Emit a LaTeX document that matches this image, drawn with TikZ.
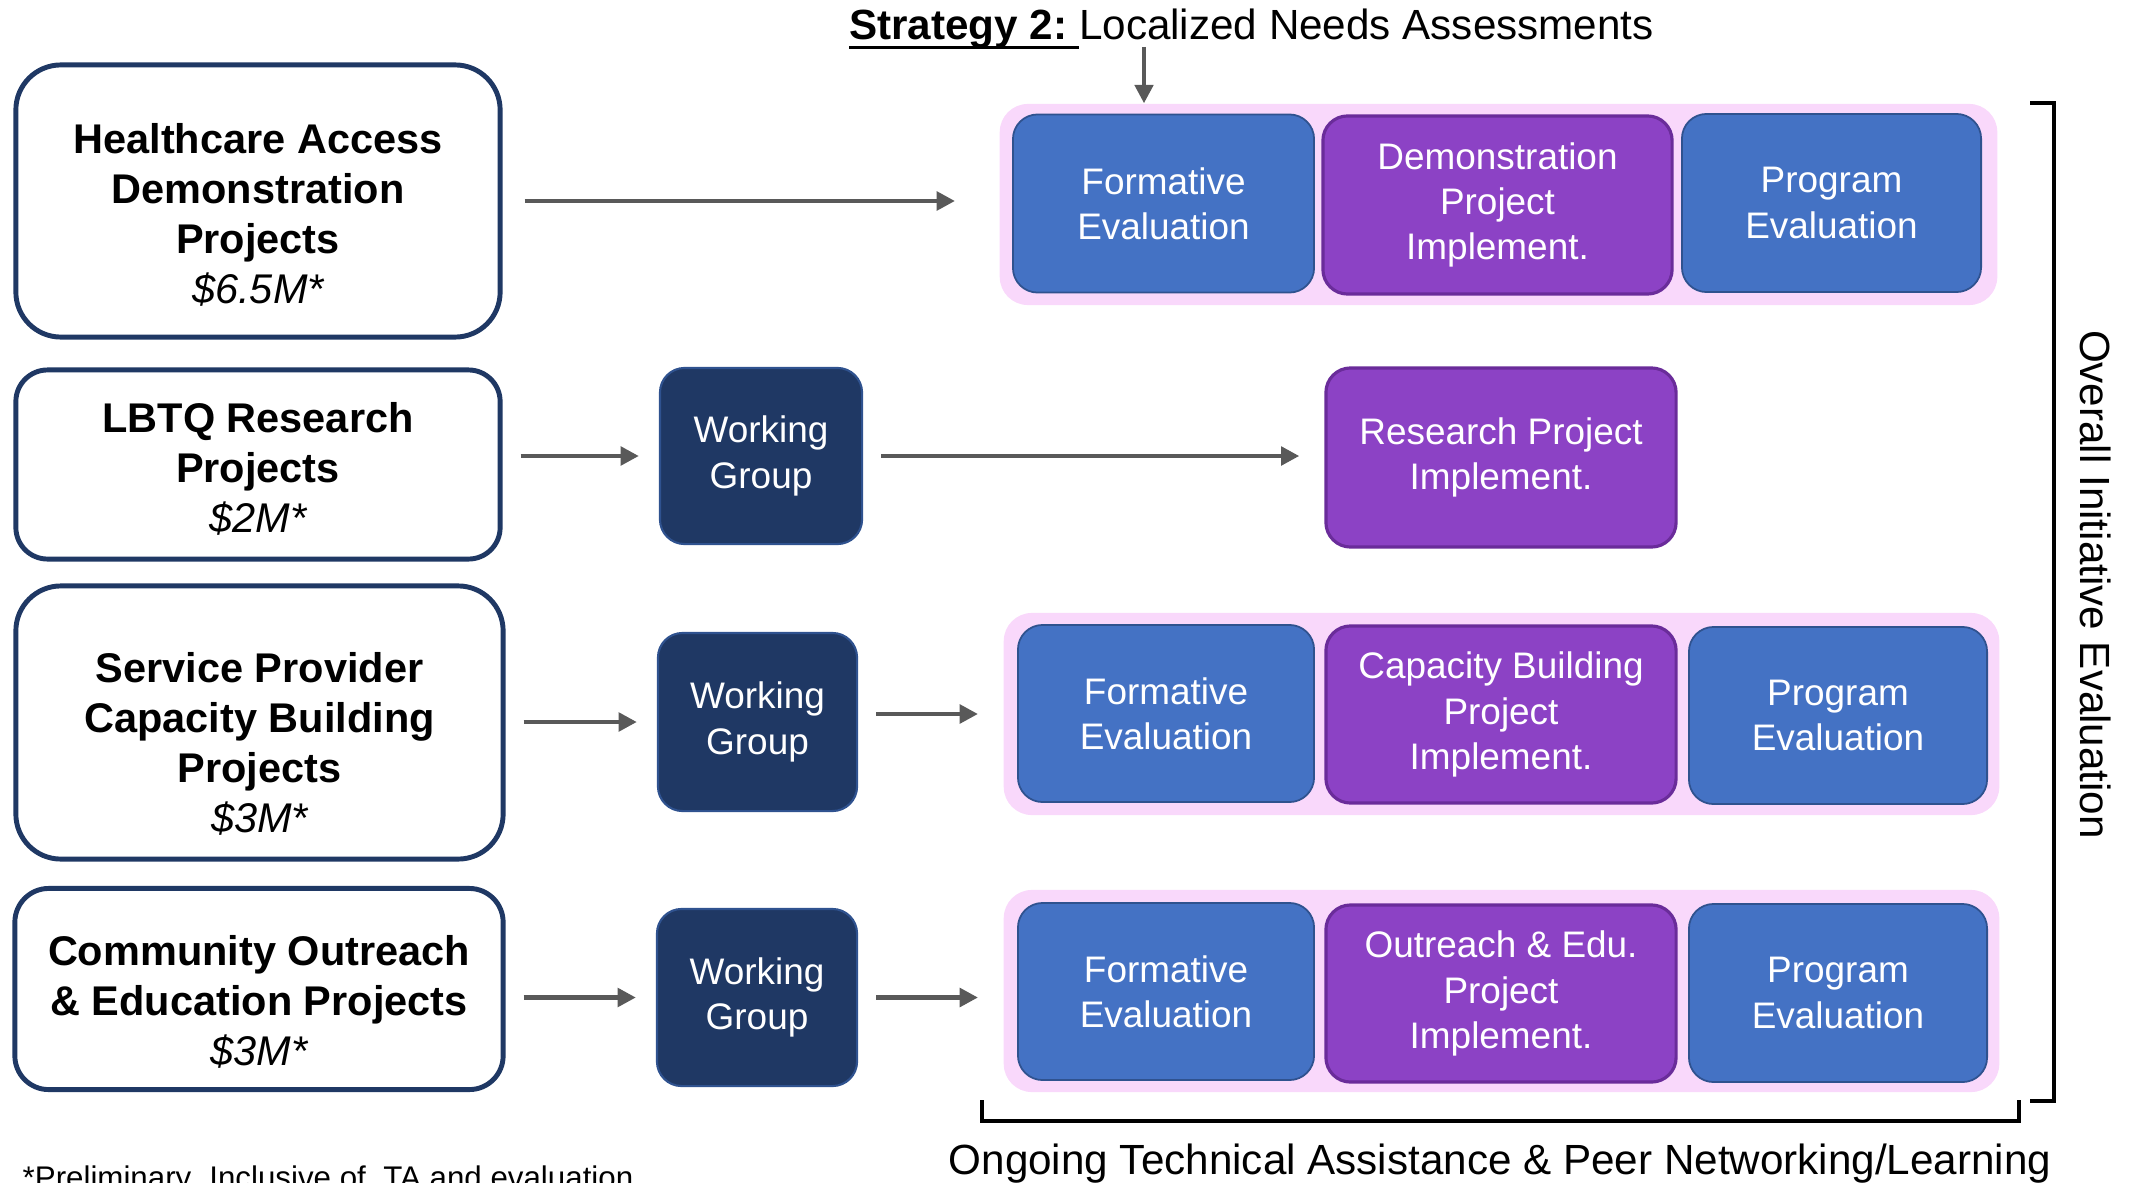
\documentclass[tikz,border=0pt]{standalone}
\usepackage{fontspec}
\setmainfont{Liberation Sans}
\usetikzlibrary{arrows.meta}

\definecolor{navy}{HTML}{1F3864}
\definecolor{navyedge}{HTML}{2F528F}
\definecolor{evalblue}{HTML}{4472C4}
\definecolor{evaledge}{HTML}{2F528F}
\definecolor{implpurple}{HTML}{8C42C5}
\definecolor{impledge}{HTML}{6A2C9A}
\definecolor{phasepink}{HTML}{F9D8FB}
\definecolor{flowgray}{HTML}{595959}

% underline placed just under the baseline, as in slide software
\newcommand\pptul[1]{\setbox0=\hbox{#1}\rlap{\rule[-2.6pt]{\wd0}{1pt}}\box0}

\begin{document}
\begin{tikzpicture}[x=0.01cm,y=-0.01cm,
  fundbox/.style={draw=navy, line width=1.4pt, fill=white, inner sep=0pt},
  fundtext/.style={align=center, font=\fontsize{11.8}{14.2}\selectfont\bfseries, inner sep=0pt},
  wgbox/.style={draw=navyedge, line width=0.6pt, fill=navy, rounded corners=7pt, text=white,
    align=center, font=\fontsize{10.5}{12.9}\selectfont, minimum width=2.0cm,
    minimum height=1.77cm, inner sep=0pt},
  phase/.style={fill=phasepink, rounded corners=8pt, minimum width=9.95cm,
    minimum height=2.02cm, inner sep=0pt},
  stage/.style={rounded corners=7pt, line width=0.5pt, text=white, align=center,
    font=\fontsize{10.5}{12.9}\selectfont, minimum height=1.78cm, inner sep=0pt},
  evalbox/.style={stage, fill=evalblue, draw=evaledge, minimum width=3.0cm},
  implbox/.style={stage, fill=implpurple, draw=impledge, line width=0.9pt, minimum width=3.5cm},
  flow/.style={draw=flowgray, line width=1.4pt, -{Triangle[length=5.2pt,width=5.2pt]},
    shorten <=0.18cm, shorten >=0.2cm},
  bracket/.style={draw=black, line width=1.4pt},
  caption/.style={font=\fontsize{12}{14.4}\selectfont, inner sep=0pt}
]
\useasboundingbox (0,0) rectangle (2131,1182);
\clip (0,0) rectangle (2131,1182);

% heading
\node[caption, anchor=base] (title) at (1251.5,40)
  {\pptul{\textbf{Strategy 2:}\ }Localized Needs Assessments};

% funding streams
\node[fundbox, rounded corners=12.8pt, minimum width=4.84cm, minimum height=2.72cm] (hca) at (258,201) {};
\node[fundtext] (hcaT) at (258,215) {Healthcare Access\\Demonstration\\Projects\\{\mdseries\itshape \$6.5M*}};

\node[fundbox, rounded corners=9pt, minimum width=4.84cm, minimum height=1.89cm] (lbtq) at (258,464.5) {};
\node[fundtext] (lbtqT) at (258,469) {LBTQ Research\\Projects\\{\mdseries\itshape \$2M*}};

\node[fundbox, rounded corners=12.8pt, minimum width=4.87cm, minimum height=2.73cm] (spc) at (259.5,722.5) {};
\node[fundtext] (spcT) at (259.5,744) {Service Provider\\Capacity Building\\Projects\\{\mdseries\itshape \$3M*}};

\node[fundbox, rounded corners=9.6pt, minimum width=4.88cm, minimum height=2.01cm] (coe) at (259,989) {};
\node[fundtext] (coeT) at (259,1001.5) {Community Outreach\\\& Education Projects\\{\mdseries\itshape \$3M*}};

% working groups
\node[wgbox, minimum width=2.02cm, minimum height=1.76cm] (wg1) at (761,456) {Working\\Group};
\node[wgbox, minimum width=1.99cm, minimum height=1.78cm] (wg2) at (757.5,722) {Working\\Group};
\node[wgbox] (wg3) at (757,997.5) {Working\\Group};

% project phases
\node[phase, minimum width=9.97cm, minimum height=2.01cm] (ph1) at (1498.5,204.5) {};
\node[evalbox, minimum width=3.01cm] (f1) at (1163.5,203.5) {Formative\\Evaluation};
\node[implbox, minimum width=3.49cm] (d1) at (1497.5,205) {Demonstration\\Project\\Implement.};
\node[evalbox, minimum width=2.99cm] (p1) at (1831.5,203) {Program\\Evaluation};

\node[implbox, minimum height=1.79cm] (r2) at (1501,457.5) {Research Project\\Implement.};

\node[phase] (ph3) at (1501.5,714) {};
\node[evalbox, minimum width=2.96cm, minimum height=1.77cm] (f3) at (1166,713.5) {Formative\\Evaluation};
\node[implbox, minimum height=1.77cm] (c3) at (1501,714.5) {Capacity Building\\Project\\Implement.};
\node[evalbox, minimum width=2.98cm, minimum height=1.77cm] (p3) at (1838,715.5) {Program\\Evaluation};

\node[phase] (ph4) at (1501.5,991) {};
\node[evalbox, minimum width=2.96cm, minimum height=1.77cm] (f4) at (1166,991.5) {Formative\\Evaluation};
\node[implbox, minimum height=1.77cm] (o4) at (1501,993.5) {Outreach \& Edu.\\Project\\Implement.};
\node[evalbox, minimum width=2.98cm, minimum height=1.78cm] (p4) at (1838,993) {Program\\Evaluation};

% flows
\coordinate (drop) at (1144,47);
\draw[flow, line width=1.1pt, shorten <=0pt, shorten >=0pt] (drop) -- (drop |- ph1.north);
\draw[flow, shorten <=0.22cm, shorten >=0.44cm] (hca.east) -- (hca.east -| ph1.west);

\draw[flow] (lbtq.east |- wg1.west) -- (wg1.west);
\draw[flow, shorten >=0.25cm] (wg1.east) -- (wg1.east -| r2.west);

\draw[flow] (spc.east |- wg2.west) -- (wg2.west);
\draw[flow, shorten >=0.25cm] (wg2.east |- ph3.west) -- (ph3.west);

\draw[flow] (coe.east |- wg3.west) -- (wg3.west);
\draw[flow, shorten >=0.25cm] (wg3.east) -- (wg3.east -| ph4.west);

% brackets
\draw[bracket] (2030,103) -- (2054,103) -- (2054,1101) -- (2030,1101);
\draw[bracket] (982,1100) -- (982,1121) -- (2019,1121) -- (2019,1100);

% captions
\node[caption, rotate=-90] (overall) at (2096,584.5) {Overall Initiative Evaluation};
\node[caption, anchor=base] (ongoing) at (1500,1174) {Ongoing Technical Assistance \& Peer Networking/Learning};
\node[anchor=base west, inner sep=0pt, font=\fontsize{8.9}{10}\selectfont] (note) at (22,1188)
  {*Preliminary. Inclusive of\ \ TA and evaluation};
\end{tikzpicture}
\end{document}
